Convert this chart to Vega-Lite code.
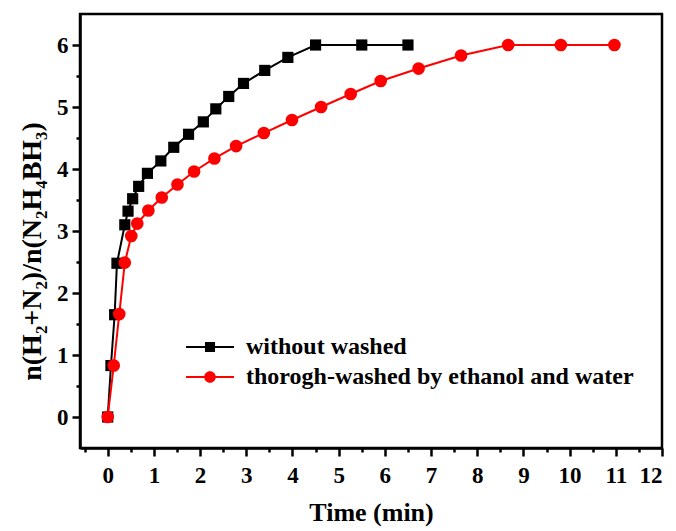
{
  "$schema": "https://vega.github.io/schema/vega-lite/v6.json",
  "autosize": "none",
  "width": 582,
  "height": 434,
  "padding": {"left": 80, "top": 14, "right": 14, "bottom": 83},
  "background": "white",
  "datasets": {
    "release": [
      {"series": "without washed", "time": 0, "ratio": 0},
      {"series": "without washed", "time": 0.07, "ratio": 0.83},
      {"series": "without washed", "time": 0.15, "ratio": 1.65},
      {"series": "without washed", "time": 0.2, "ratio": 2.48},
      {"series": "without washed", "time": 0.37, "ratio": 3.1},
      {"series": "without washed", "time": 0.44, "ratio": 3.32},
      {"series": "without washed", "time": 0.54, "ratio": 3.52},
      {"series": "without washed", "time": 0.67, "ratio": 3.72},
      {"series": "without washed", "time": 0.86, "ratio": 3.93},
      {"series": "without washed", "time": 1.15, "ratio": 4.13},
      {"series": "without washed", "time": 1.43, "ratio": 4.35},
      {"series": "without washed", "time": 1.75, "ratio": 4.56},
      {"series": "without washed", "time": 2.07, "ratio": 4.76},
      {"series": "without washed", "time": 2.34, "ratio": 4.97},
      {"series": "without washed", "time": 2.62, "ratio": 5.17},
      {"series": "without washed", "time": 2.94, "ratio": 5.38},
      {"series": "without washed", "time": 3.4, "ratio": 5.59},
      {"series": "without washed", "time": 3.9, "ratio": 5.8},
      {"series": "without washed", "time": 4.5, "ratio": 6},
      {"series": "without washed", "time": 5.5, "ratio": 6},
      {"series": "without washed", "time": 6.5, "ratio": 6},
      {"series": "thorogh-washed by ethanol and water", "time": 0, "ratio": 0},
      {"series": "thorogh-washed by ethanol and water", "time": 0.13, "ratio": 0.83},
      {"series": "thorogh-washed by ethanol and water", "time": 0.25, "ratio": 1.66},
      {"series": "thorogh-washed by ethanol and water", "time": 0.37, "ratio": 2.49},
      {"series": "thorogh-washed by ethanol and water", "time": 0.51, "ratio": 2.92},
      {"series": "thorogh-washed by ethanol and water", "time": 0.64, "ratio": 3.12},
      {"series": "thorogh-washed by ethanol and water", "time": 0.88, "ratio": 3.33},
      {"series": "thorogh-washed by ethanol and water", "time": 1.17, "ratio": 3.54},
      {"series": "thorogh-washed by ethanol and water", "time": 1.51, "ratio": 3.75},
      {"series": "thorogh-washed by ethanol and water", "time": 1.87, "ratio": 3.96},
      {"series": "thorogh-washed by ethanol and water", "time": 2.31, "ratio": 4.17},
      {"series": "thorogh-washed by ethanol and water", "time": 2.78, "ratio": 4.37},
      {"series": "thorogh-washed by ethanol and water", "time": 3.38, "ratio": 4.58},
      {"series": "thorogh-washed by ethanol and water", "time": 3.99, "ratio": 4.79},
      {"series": "thorogh-washed by ethanol and water", "time": 4.62, "ratio": 5.0},
      {"series": "thorogh-washed by ethanol and water", "time": 5.26, "ratio": 5.21},
      {"series": "thorogh-washed by ethanol and water", "time": 5.91, "ratio": 5.42},
      {"series": "thorogh-washed by ethanol and water", "time": 6.73, "ratio": 5.62},
      {"series": "thorogh-washed by ethanol and water", "time": 7.65, "ratio": 5.83},
      {"series": "thorogh-washed by ethanol and water", "time": 8.67, "ratio": 6},
      {"series": "thorogh-washed by ethanol and water", "time": 9.81, "ratio": 6},
      {"series": "thorogh-washed by ethanol and water", "time": 10.97, "ratio": 6}
    ]
  },
  "data": {"name": "release"},
  "encoding": {
    "x": {
      "field": "time",
      "type": "quantitative",
      "scale": {"domain": [-0.6, 12], "nice": false, "zero": false},
      "axis": {
        "title": "Time (min)",
        "values": [-0.5, 0, 0.5, 1, 1.5, 2, 2.5, 3, 3.5, 4, 4.5, 5, 5.5, 6, 6.5, 7, 7.5, 8, 8.5, 9, 9.5, 10, 10.5, 11, 11.5, 12],
        "labelExpr": "datum.value % 1 === 0 ? format(datum.value, 'd') : ''",
        "tickSize": {"condition": {"test": "datum.value % 1 === 0", "value": 8}, "value": 4},
        "labelPadding": 8,
        "titlePadding": 12
      }
    },
    "y": {
      "field": "ratio",
      "type": "quantitative",
      "scale": {"domain": [-0.5, 6.5], "nice": false, "zero": false},
      "axis": {
        "title": "n(H₂+N₂)/n(N₂H₄BH₃)",
        "titleFontSize": 28,
        "titleY": 237,
        "values": [0, 0.5, 1, 1.5, 2, 2.5, 3, 3.5, 4, 4.5, 5, 5.5, 6],
        "labelExpr": "datum.value % 1 === 0 ? format(datum.value, 'd') : ''",
        "tickSize": {"condition": {"test": "datum.value % 1 === 0", "value": 8}, "value": 4},
        "labelPadding": 4,
        "titlePadding": 10
      }
    }
  },
  "layer": [
    {
      "transform": [{"filter": "datum.series === 'without washed'"}],
      "mark": {"type": "line", "strokeWidth": 2, "color": "#000000"}
    },
    {
      "transform": [{"filter": "datum.series === 'without washed'"}],
      "mark": {"type": "point", "shape": "square", "filled": true, "color": "#000000", "size": 125, "opacity": 1}
    },
    {
      "transform": [{"filter": "datum.series !== 'without washed'"}],
      "mark": {"type": "line", "strokeWidth": 2, "color": "#ff0000"}
    },
    {
      "transform": [{"filter": "datum.series !== 'without washed'"}],
      "mark": {"type": "point", "shape": "circle", "filled": true, "color": "#ff0000", "size": 160, "opacity": 1}
    },
    {
      "transform": [{"filter": "datum.ratio > 100"}],
      "mark": {"type": "point", "filled": true, "opacity": 1, "size": 576},
      "encoding": {
        "color": {
          "field": "series",
          "type": "nominal",
          "scale": {"domain": ["without washed", "thorogh-washed by ethanol and water"], "range": ["#000000", "#ff0000"]},
          "legend": {
            "title": null,
            "labelFont": "Liberation Serif",
            "labelFontWeight": "bold",
            "labelFontSize": 24,
            "labelColor": "#000000"
          }
        },
        "shape": {
          "field": "series",
          "type": "nominal",
          "scale": {
            "domain": ["without washed", "thorogh-washed by ethanol and water"],
            "range": [
              "M-2,-0.083H2V0.083H-2Z M-0.42,-0.42H0.42V0.42H-0.42Z",
              "M-2,-0.083H2V0.083H-2Z M0.48,0A0.48,0.48,0,1,1,-0.48,0A0.48,0.48,0,1,1,0.48,0Z"
            ]
          },
          "legend": {
            "title": null,
            "labelFont": "Liberation Serif",
            "labelFontWeight": "bold",
            "labelFontSize": 24,
            "labelColor": "#000000"
          }
        }
      }
    }
  ],
  "config": {
    "font": "Liberation Serif",
    "view": {"stroke": "#000000", "strokeWidth": 2.5},
    "axis": {
      "grid": false,
      "domainColor": "#000000",
      "domainWidth": 2.5,
      "tickColor": "#000000",
      "tickWidth": 2.5,
      "labelFont": "Liberation Serif",
      "labelFontWeight": "bold",
      "labelFontSize": 23,
      "labelColor": "#000000",
      "titleFont": "Liberation Serif",
      "titleFontWeight": "bold",
      "titleFontSize": 26,
      "titleColor": "#000000"
    },
    "legend": {
      "orient": "none",
      "legendX": 117,
      "legendY": 320,
      "padding": 0,
      "symbolSize": 576,
      "labelFont": "Liberation Serif",
      "labelFontWeight": "bold",
      "labelFontSize": 24,
      "labelColor": "#000000",
      "labelOffset": 23,
      "labelLimit": 600,
      "rowPadding": 5
    }
  }
}
